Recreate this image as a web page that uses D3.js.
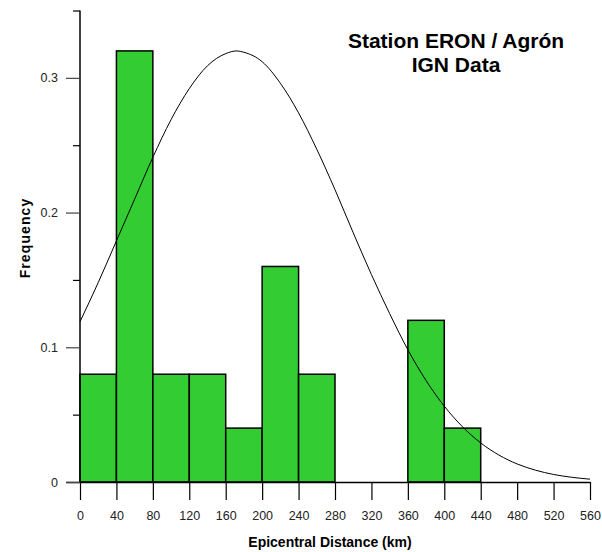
<!DOCTYPE html>
<html><head><meta charset="utf-8">
<script src="https://cdn.jsdelivr.net/npm/d3@7"></script>
<style>body{margin:0;background:#fff;} text{font-family:"Liberation Sans",Arial,sans-serif;}</style>
</head><body>
<svg id="c" width="602" height="552"></svg>
<script>
const binStarts = [0, 40, 80, 120, 160, 200, 240, 280, 320, 360, 400];
const binWidth = 40;
const frequencies = [0.08, 0.32, 0.08, 0.08, 0.04, 0.16, 0.08, 0, 0, 0.12, 0.04];
const curveX = [0,20,40,60,80,100,120,140,160,172,180,200,220,240,260,280,300,320,340,360,380,400,420,440,460,480,500,520,540,560];
const curveY = [0.119,0.148,0.179,0.210,0.241,0.269,0.292,0.309,0.318,0.320,0.319,0.312,0.296,0.274,0.247,0.217,0.185,0.154,0.125,0.0982,0.0753,0.0563,0.0410,0.0290,0.0200,0.0134,0.0088,0.0056,0.0035,0.0021];
const xTicks = [0,40,80,120,160,200,240,280,320,360,400,440,480,520,560];
const yMajor = [0, 0.1, 0.2, 0.3];
const yMinor = [0.05, 0.15, 0.25, 0.35];
const title = ["Station ERON / Agrón", "IGN Data"];

const svg = d3.select("#c");
const x = d3.scaleLinear().domain([0, 560]).range([80, 590]);
const y = d3.scaleLinear().domain([0, 0.35]).range([482, 10.5]);

// bars
svg.append("g").selectAll("rect").data(binStarts.map((s,i)=>({s, f:frequencies[i]})).filter(d=>d.f>0))
  .join("rect")
  .attr("x", d=>x(d.s)).attr("width", d=>x(d.s+binWidth)-x(d.s))
  .attr("y", d=>y(d.f)).attr("height", d=>y(0)-y(d.f))
  .attr("fill", "#33cc33").attr("stroke", "#000").attr("stroke-width", 1.5);

// curve
svg.append("path").datum(curveX.map((v,i)=>[v, curveY[i]]))
  .attr("d", d3.line().x(d=>x(d[0])).y(d=>y(d[1])).curve(d3.curveMonotoneX))
  .attr("fill","none").attr("stroke","#000").attr("stroke-width",1);

// x axis
const xAxis = d3.axisBottom(x).tickValues(xTicks).tickSize(18).tickPadding(11).tickFormat(d3.format("d"));
const gx = svg.append("g").attr("transform","translate(0,482)").call(xAxis);
gx.select(".domain").attr("stroke","#000").attr("stroke-width",1.5).attr("d","M66,0.5H590");
gx.selectAll(".tick line").attr("stroke","#000").attr("stroke-width",1.2);
gx.selectAll(".tick text").attr("font-size",12.5).attr("fill","#222");

// y axis
const yAxis = d3.axisLeft(y).tickValues(yMajor).tickSize(14).tickPadding(8).tickFormat(d=>d===0?"0":d3.format(".1f")(d));
const gy = svg.append("g").attr("transform","translate(80,0)").call(yAxis);
gy.select(".domain").attr("stroke","#000").attr("stroke-width",1.5).attr("d","M0,482V10.5");
gy.selectAll(".tick line").attr("stroke","#444").attr("stroke-width",1.2);
gy.selectAll(".tick text").attr("font-size",12.5).attr("fill","#222");
const gyMinor = d3.axisLeft(y).tickValues(yMinor).tickSize(7).tickFormat("");
const gym = svg.append("g").attr("transform","translate(80,0)").call(gyMinor);
gym.select(".domain").remove();
gym.selectAll(".tick line").attr("stroke","#000").attr("stroke-width",1.2);

// axis titles
svg.append("text").attr("x",330).attr("y",546.5).attr("text-anchor","middle")
  .attr("font-size",14).attr("font-weight","bold").text("Epicentral Distance (km)");
svg.append("text").attr("transform","translate(30,238) rotate(-90)").attr("text-anchor","middle")
  .attr("font-size",14).attr("font-weight","bold").attr("letter-spacing",1.1).text("Frequency");

// title
svg.append("g").selectAll("text").data(title).join("text")
  .attr("x",456).attr("y",(d,i)=>48+i*24).attr("text-anchor","middle")
  .attr("font-size",21).attr("font-weight","bold").text(d=>d);
</script>
</body></html>
